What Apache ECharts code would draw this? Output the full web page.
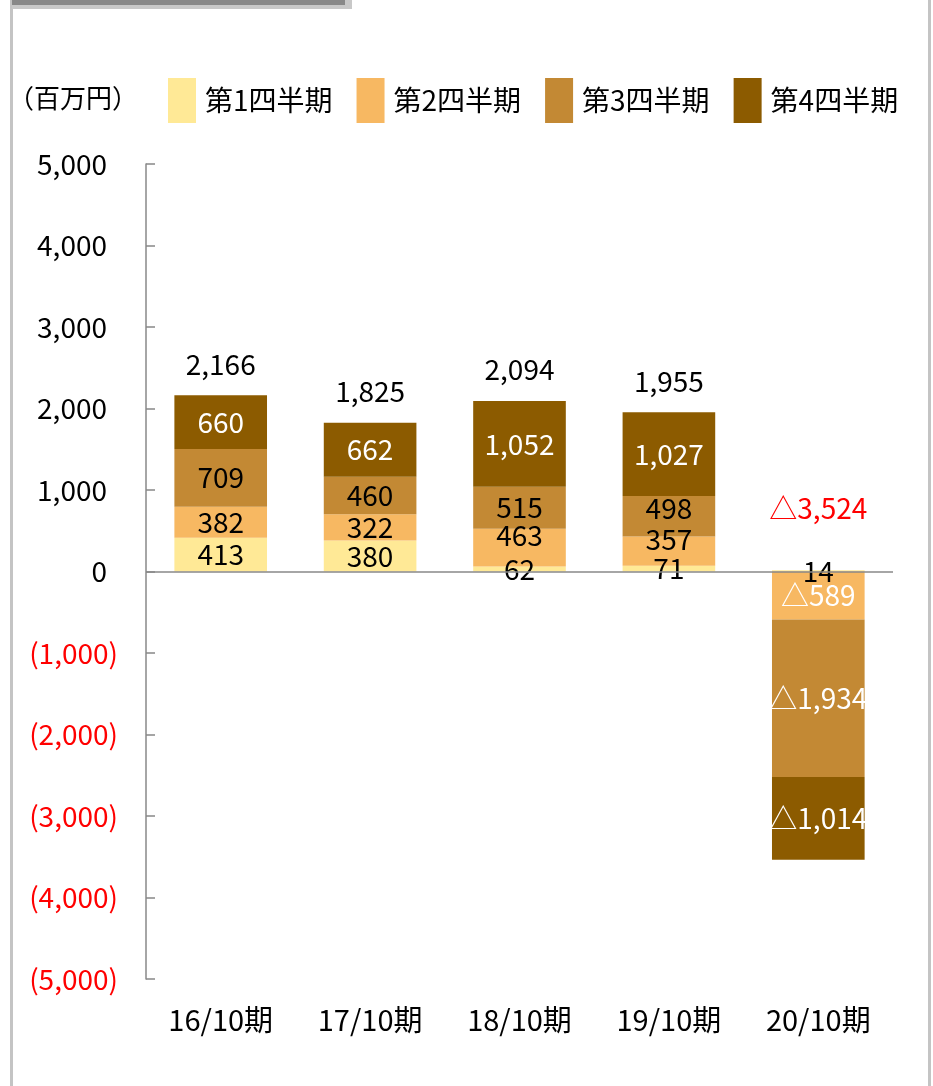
<!DOCTYPE html>
<html><head><meta charset="utf-8">
<script src="https://cdn.jsdelivr.net/npm/echarts@6/dist/echarts.min.js"></script>
<style>html,body{margin:0;padding:0;background:#fff}#c{width:933px;height:1086px}</style>
</head><body><div id="c"></div>
<script>
const categories = ['16/10期', '17/10期', '18/10期', '19/10期', '20/10期'];
const seriesNames = ['第1四半期', '第2四半期', '第3四半期', '第4四半期'];
const q1 = [413, 380, 62, 71, 14];
const q2 = [382, 322, 463, 357, -589];
const q3 = [709, 460, 515, 498, -1934];
const q4 = [660, 662, 1052, 1027, -1014];
const totals = [2166, 1825, 2094, 1955, -3524];
const unitLabel = '（百万円）';

const FONT = '"Noto Sans CJK JP", "Noto Sans", sans-serif';
const FS = 28;
const colors = ['#FFE996', '#F7B862', '#C38934', '#8C5B00'];
const fmt = v => v < 0 ? '△' + Math.abs(v).toLocaleString('en-US') : v.toLocaleString('en-US');

// small label nudges seen in the reference (series index -> category index -> dy)
const labelNudge = { 1: { 2: -12, 3: -12 }, 2: { 3: -8 } };

const quarterData = [q1, q2, q3, q4];
const barSeries = quarterData.map((arr, si) => ({
  name: seriesNames[si],
  type: 'bar',
  stack: 'total',
  barWidth: '62%',
  itemStyle: { color: colors[si] },
  label: {
    show: true, position: 'inside', fontSize: FS, fontFamily: FONT,
    formatter: p => fmt(p.value)
  },
  data: arr.map((v, i) => ({
    value: v,
    label: {
      color: (v < 0 || si === 3) ? '#fff' : '#000',
      offset: [0, (labelNudge[si] && labelNudge[si][i]) || 0]
    }
  })),
  markLine: si === 0 ? {
    silent: true, symbol: ['none', 'none'],
    lineStyle: { color: '#888', width: 1.5, type: 'solid' },
    label: { show: false },
    data: [{ yAxis: 0 }]
  } : undefined
}));

const totalSeries = {
  name: 'total', type: 'scatter', symbolSize: 0, z: 10,
  itemStyle: { opacity: 1 },
  label: {
    show: true, position: 'top', distance: 17, fontSize: FS, fontFamily: FONT, color: '#000',
    formatter: p => fmt(totals[p.dataIndex])
  },
  data: totals.map((t, i) => ({
    value: [i, Math.max(t, 0)],
    label: { color: t < 0 ? '#ff0000' : '#000', offset: [0, t < 0 ? -32 : 0] }
  }))
};

const chart = echarts.init(document.getElementById('c'));
chart.setOption({
  animation: false,
  backgroundColor: '#fff',
  textStyle: { fontFamily: FONT },
  title: {
    text: unitLabel, left: 8, top: 85, padding: 0,
    textStyle: { fontSize: 26, fontWeight: 'normal', color: '#000', fontFamily: FONT }
  },
  legend: {
    data: seriesNames, left: 168, top: 78, icon: 'rect', padding: 0,
    itemWidth: 28, itemHeight: 45, itemGap: 24,
    textStyle: { fontSize: FS, color: '#000', width: 130, padding: [0, 0, 0, 4], fontFamily: FONT }
  },
  grid: { left: 146, right: 40, top: 164, bottom: 107, containLabel: false },
  xAxis: {
    type: 'category', data: categories,
    axisLine: { show: false, onZero: false },
    axisTick: { show: false },
    axisLabel: { fontSize: 29, color: '#000', margin: 26, fontFamily: FONT }
  },
  yAxis: {
    type: 'value', min: -5000, max: 5000, interval: 1000,
    axisLine: { show: true, lineStyle: { color: '#888', width: 1.5 } },
    axisTick: { show: true, inside: true, length: 9, lineStyle: { color: '#888', width: 1.5 } },
    splitLine: { show: false },
    axisLabel: {
      margin: 28, fontSize: FS, fontFamily: FONT,
      formatter: v => v < 0 ? '{neg|(' + Math.abs(v).toLocaleString('en-US') + ')}' : '{pos|' + v.toLocaleString('en-US') + '}',
      rich: {
        neg: { color: '#ff0000', fontSize: FS, fontFamily: FONT },
        pos: { color: '#000', fontSize: FS, fontFamily: FONT, padding: [0, 11, 0, 0] }
      }
    }
  },
  graphic: [
    { type: 'rect', shape: { x: 10, y: 0, width: 3, height: 1086 }, style: { fill: '#c4c4c4' } },
    { type: 'rect', shape: { x: 928, y: 0, width: 3, height: 1086 }, style: { fill: '#c4c4c4' } },
    { type: 'rect', shape: { x: 12, y: 0, width: 340, height: 9 }, style: { fill: '#c8c8c8' } },
    { type: 'rect', shape: { x: 12, y: 0, width: 333, height: 5 }, style: { fill: '#888' } }
  ],
  series: [...barSeries, totalSeries]
});
</script>
</body></html>
